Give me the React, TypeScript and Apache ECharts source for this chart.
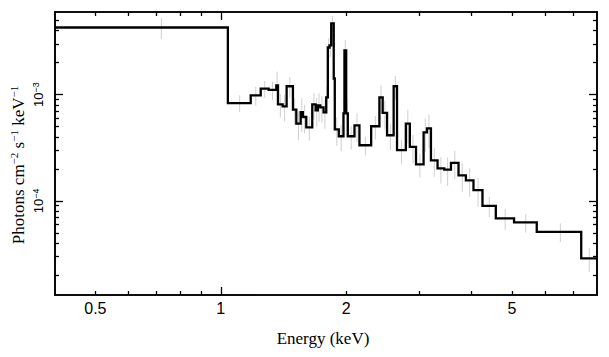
import React, { useEffect, useRef } from 'react';
import * as echarts from 'echarts';

// Bin edges (keV) of the step spectrum
const EDGES = [
  0.40, 1.04, 1.18, 1.247, 1.303, 1.359, 1.372, 1.408, 1.439, 1.490, 1.518, 1.555, 1.574, 1.604,
  1.658, 1.689, 1.710, 1.733, 1.765, 1.791, 1.807, 1.824, 1.841, 1.867, 1.878, 1.920, 1.970,
  1.981, 2.000, 2.018, 2.094, 2.152, 2.296, 2.403, 2.447, 2.507, 2.600, 2.649, 2.781, 2.843,
  2.942, 3.068, 3.126, 3.195, 3.314, 3.439, 3.569, 3.721, 3.876, 4.042, 4.248, 4.573, 5.058,
  5.734, 7.332, 8.0,
];

// Flux per bin (photons cm^-2 s^-1 keV^-1)
const FLUX = [
  4.29e-3, 8.34e-4, 9.85e-4, 1.14e-3, 1.11e-3, 1.22e-3, 8.10e-4, 7.76e-4, 1.20e-3, 7.23e-4,
  5.34e-4, 6.86e-4, 6.16e-4, 4.93e-4, 8.10e-4, 7.12e-4, 7.93e-4, 7.60e-4, 6.82e-4, 9.43e-4,
  2.78e-3, 2.91e-3, 4.68e-3, 1.42e-3, 4.72e-4, 4.06e-4, 6.67e-4, 2.61e-3, 6.67e-4, 4.06e-4,
  5.14e-4, 3.34e-4, 5.04e-4, 9.43e-4, 6.74e-4, 4.15e-4, 1.20e-3, 3.00e-4, 5.34e-4, 3.22e-4,
  2.21e-4, 4.42e-4, 4.82e-4, 2.41e-4, 2.02e-4, 1.97e-4, 2.28e-4, 1.74e-4, 1.56e-4, 1.26e-4,
  8.98e-5, 6.83e-5, 6.27e-5, 5.11e-5, 2.87e-5,
];

// Relative error per bin
const REL_ERR = [
  0.22, 0.18, 0.20, 0.18, 0.20, 0.35, 0.25, 0.28, 0.22, 0.28,
  0.30, 0.35, 0.30, 0.25, 0.28, 0.30, 0.30, 0.28, 0.30, 0.30,
  0.22, 0.22, 0.18, 0.35, 0.30, 0.28, 0.40, 0.25, 0.40, 0.25,
  0.30, 0.20, 0.25, 0.30, 0.30, 0.28, 0.25, 0.25, 0.35, 0.30,
  0.25, 0.35, 0.35, 0.30, 0.28, 0.30, 0.30, 0.30, 0.30, 0.30,
  0.22, 0.22, 0.20, 0.20, 0.25,
];

const X_TICK_LABELS = [0.5, 1, 2, 5];
const X_MINOR_TICKS = [0.5, 0.6, 0.7, 0.8, 0.9, 2, 3, 4, 5, 6, 7];
const X_MAJOR_TICKS = [1];
const Y_TICK_LABELS = [1e-4, 1e-3];
const Y_MINOR_TICKS = [
  2e-5, 3e-5, 4e-5, 5e-5, 6e-5, 7e-5, 8e-5, 9e-5,
  2e-4, 3e-4, 4e-4, 5e-4, 6e-4, 7e-4, 8e-4, 9e-4,
  2e-3, 3e-3, 4e-3, 5e-3,
];
const Y_MAJOR_TICKS = [1e-4, 1e-3];

const X_MIN = 0.4;
const X_MAX = 8;
const Y_MIN = 1.3e-5;
const Y_MAX = 6e-3;

const SANS = "'Liberation Sans', Arial, Helvetica, sans-serif";
const SERIF = "'Liberation Serif', 'Times New Roman', serif";

function makeAxis(kind: 'x' | 'y', position: string, ticks: number[], len: number, labels?: number[]) {
  const isX = kind === 'x';
  const axis: any = {
    type: 'log',
    logBase: 10,
    min: isX ? X_MIN : Y_MIN,
    max: isX ? X_MAX : Y_MAX,
    position,
    axisLine: { show: true, onZero: false, lineStyle: { color: '#000', width: 1.6 } },
    axisTick: { show: true, inside: true, length: len, customValues: ticks, lineStyle: { color: '#000', width: 1.3 } },
    splitLine: { show: false },
    minorTick: { show: false },
    axisLabel: { show: false },
  };
  if (labels) {
    if (isX) {
      axis.axisLabel = {
        show: true,
        customValues: labels,
        margin: 5,
        color: '#000',
        fontFamily: SANS,
        fontSize: 16,
        formatter: (v: number) => String(Math.round(v * 10) / 10),
      };
    } else {
      axis.axisLabel = {
        show: true,
        customValues: labels,
        rotate: 90,
        margin: 9,
        color: '#000',
        formatter: (v: number) => `{b|10}{s|\u2212${Math.abs(Math.round(Math.log10(v)))}}`,
        rich: {
          b: { fontFamily: SANS, fontSize: 13, lineHeight: 15, color: '#000' },
          s: { fontFamily: SANS, fontSize: 9, lineHeight: 9, verticalAlign: 'top', color: '#000' },
        },
      };
    }
  }
  return axis;
}

export default function App() {
  const ref = useRef<HTMLDivElement>(null);

  useEffect(() => {
    if (!ref.current) return;
    const chart = echarts.init(ref.current, undefined, { renderer: 'svg' });

    const n = FLUX.length;
    const stepData: number[][] = [];
    for (let i = 0; i < n; i++) stepData.push([EDGES[i], FLUX[i]]);
    stepData.push([EDGES[n], FLUX[n - 1]]);

    const errData = FLUX.map((v, i) => {
      const c = (EDGES[i] + EDGES[i + 1]) / 2;
      return [c, v * (1 - REL_ERR[i]), v * (1 + REL_ERR[i])];
    });

    chart.setOption({
      animation: false,
      backgroundColor: '#fff',
      grid: { left: 55, right: 12, top: 12, bottom: 62, containLabel: false },
      xAxis: [
        makeAxis('x', 'bottom', X_MINOR_TICKS, 4, X_TICK_LABELS),
        makeAxis('x', 'bottom', X_MAJOR_TICKS, 8),
        makeAxis('x', 'top', X_MINOR_TICKS, 4),
        makeAxis('x', 'top', X_MAJOR_TICKS, 8),
      ],
      yAxis: [
        makeAxis('y', 'left', Y_MINOR_TICKS, 4, Y_TICK_LABELS),
        makeAxis('y', 'left', Y_MAJOR_TICKS, 8),
        makeAxis('y', 'right', Y_MINOR_TICKS, 4),
        makeAxis('y', 'right', Y_MAJOR_TICKS, 8),
      ],
      series: [
        {
          type: 'custom',
          xAxisIndex: 0,
          yAxisIndex: 0,
          data: errData,
          encode: { x: 0, y: [1, 2] },
          clip: true,
          z: 1,
          renderItem: (params: any, api: any) => {
            const x = api.value(0);
            const p1 = api.coord([x, api.value(1)]);
            const p2 = api.coord([x, api.value(2)]);
            return {
              type: 'line',
              shape: { x1: p1[0], y1: p1[1], x2: p2[0], y2: p2[1] },
              style: { stroke: '#cfcfcf', lineWidth: 1 },
            };
          },
        },
        {
          type: 'line',
          xAxisIndex: 0,
          yAxisIndex: 0,
          data: stepData,
          step: 'end',
          showSymbol: false,
          symbol: 'none',
          clip: true,
          z: 3,
          lineStyle: { color: '#000', width: 2.3, join: 'miter', cap: 'butt' },
        },
      ],
      graphic: [
        {
          type: 'text',
          x: 323,
          y: 338,
          style: {
            text: 'Energy (keV)',
            fontFamily: SERIF,
            fontSize: 17,
            fill: '#000',
            align: 'center',
            verticalAlign: 'middle',
          },
        },
        {
          type: 'text',
          x: 18,
          y: 165,
          rotation: Math.PI / 2,
          style: {
            text: '{n|Photons cm}{s|\u22122}{n| s}{s|\u22121}{n| keV}{s|\u22121}',
            rich: {
              n: { fontFamily: SERIF, fontSize: 17, lineHeight: 20, fill: '#000' },
              s: { fontFamily: SERIF, fontSize: 11, lineHeight: 12, verticalAlign: 'top', fill: '#000' },
            },
            fill: '#000',
            align: 'center',
            verticalAlign: 'middle',
          },
        },
      ],
    });

    return () => chart.dispose();
  }, []);

  return (
    <div
      ref={ref}
      style={{ position: 'fixed', left: 0, top: 0, width: 609, height: 357, background: '#fff' }}
    />
  );
}
